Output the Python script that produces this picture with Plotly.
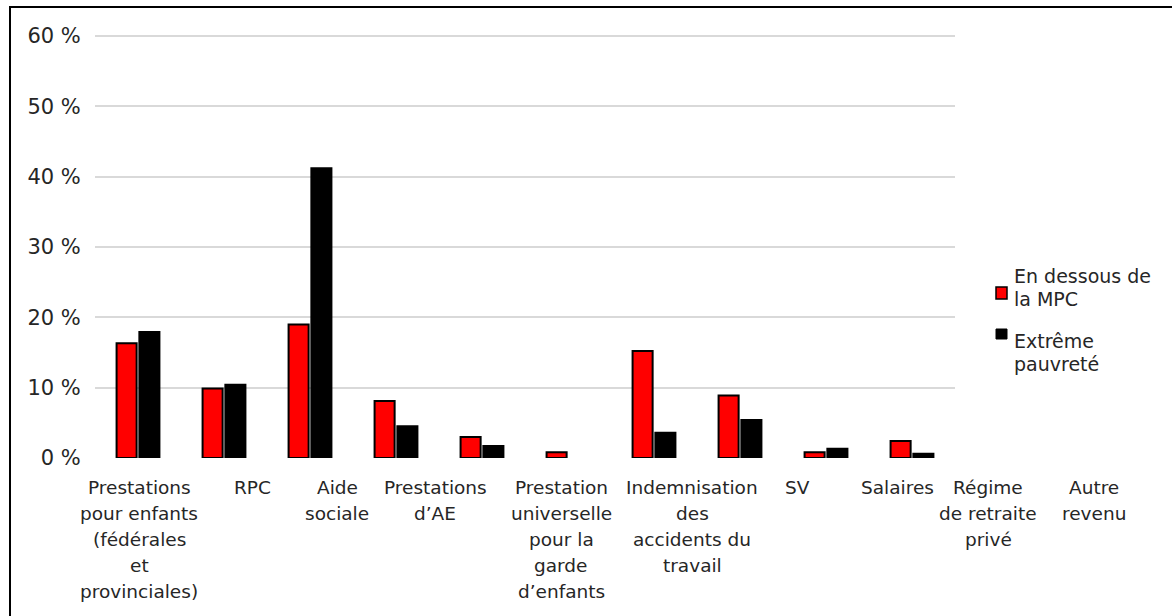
import plotly.graph_objects as go

# Sources of income, share of recipients (%)
categories = [
    "Prestations pour enfants (fédérales et provinciales)",
    "RPC",
    "Aide sociale",
    "Prestations d’AE",
    "Prestation universelle pour la garde d’enfants",
    "Indemnisation des accidents du travail",
    "SV",
    "Salaires",
    "Régime de retraite privé",
    "Autre revenu",
]
below_mpc = [16.3, 9.9, 19.0, 8.1, 3.0, 0.8, 15.2, 8.9, 0.8, 2.4]
extreme_poverty = [17.9, 10.4, 41.2, 4.5, 1.7, 0.0, 3.6, 5.4, 1.3, 0.6]

# Category labels as they wrap under the axis
axis_labels = [
    ["Prestations", "pour enfants", "(fédérales", "et", "provinciales)"],
    ["RPC"],
    ["Aide", "sociale"],
    ["Prestations", "d’AE"],
    ["Prestation", "universelle", "pour la", "garde", "d’enfants"],
    ["Indemnisation", "des", "accidents du", "travail"],
    ["SV"],
    ["Salaires"],
    ["Régime", "de retraite", "privé"],
    ["Autre", "revenu"],
]
label_centers_px = [139, 252, 337, 435, 561, 692, 797, 897, 988, 1094]

series_names = ["En dessous de la MPC", "Extrême pauvreté"]
y_ticks = [0, 10, 20, 30, 40, 50, 60]
y_ticktext = [f"{v} %" for v in y_ticks]

W, H = 1172, 616
L, R_PX, T, B_PX = 95, 955, 29, 458
PW, PH = R_PX - L, B_PX - T
FONT = "DejaVu Sans"
TEXT = "#262626"


def fx(p):
    return (p - L) / PW


def fy(p):
    return (B_PX - p) / PH


fig = go.Figure()
fig.add_bar(
    x=categories, y=below_mpc, name=series_names[0],
    marker=dict(color="#ff0000", line=dict(color="#000000", width=2)),
    showlegend=False,
)
fig.add_bar(
    x=categories, y=extreme_poverty, name=series_names[1],
    marker=dict(color="#000000",
                line=dict(color="#000000",
                          width=[2 if v > 0 else 0 for v in extreme_poverty])),
    showlegend=False,
)

annotations = []
for lines, cx in zip(axis_labels, label_centers_px):
    for i, line in enumerate(lines):
        annotations.append(dict(
            x=fx(cx), y=fy(487 + 26 * i), xref="paper", yref="paper",
            text=line, showarrow=False, xanchor="center", yanchor="middle",
            font=dict(family=FONT, size=18.5, color=TEXT),
        ))

# Legend drawn beside the plot area
legend_rows = [
    (["En dessous de", "la MPC"], [276, 299]),
    (["Extrême", "pauvreté"], [341, 364]),
]
for lines, ys in legend_rows:
    for line, yy in zip(lines, ys):
        annotations.append(dict(
            x=fx(1012), y=fy(yy), xref="paper", yref="paper",
            text=line, showarrow=False, xanchor="left", yanchor="middle",
            font=dict(family=FONT, size=19, color=TEXT),
        ))

shapes = [
    dict(type="rect", xref="paper", yref="paper",
         x0=fx(996), x1=fx(1007), y0=fy(299), y1=fy(287),
         fillcolor="#ff0000", line=dict(color="#000000", width=1.5)),
    dict(type="rect", xref="paper", yref="paper",
         x0=fx(996), x1=fx(1007), y0=fy(339), y1=fy(329),
         fillcolor="#000000", line=dict(color="#000000", width=1)),
    # outer frame of the chart
    dict(type="rect", xref="paper", yref="paper",
         x0=fx(10), x1=fx(1180), y0=fy(630), y1=fy(7),
         fillcolor="rgba(0,0,0,0)", line=dict(color="#000000", width=2)),
]

fig.update_layout(
    width=W, height=H,
    margin=dict(l=L, r=W - R_PX, t=T, b=H - B_PX, pad=0),
    paper_bgcolor="#ffffff", plot_bgcolor="#ffffff",
    barmode="group", bargap=0.47, bargroupgap=0.12,
    font=dict(family=FONT, color=TEXT),
    xaxis=dict(showticklabels=False, showgrid=False, zeroline=False,
               showline=False, ticks=""),
    yaxis=dict(range=[0, 61], tickvals=y_ticks, ticktext=y_ticktext,
               showgrid=True, gridcolor="#d9d9d9", gridwidth=1.5,
               zeroline=False, showline=False,
               ticks="outside", ticklen=9, tickcolor="rgba(0,0,0,0)",
               tickfont=dict(family=FONT, size=21, color=TEXT)),
    annotations=annotations,
    shapes=shapes,
    showlegend=False,
)

fig.write_html("out.html")
